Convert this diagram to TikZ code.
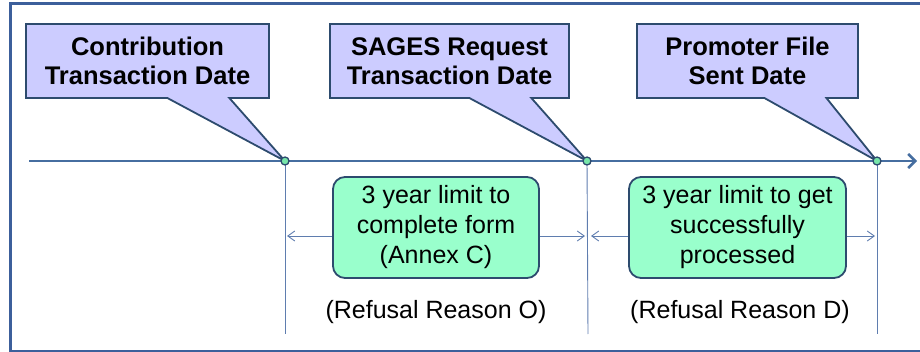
\documentclass[tikz,border=0pt]{standalone}
\usepackage{fontspec}
\setmainfont{Liberation Sans}
\usetikzlibrary{shapes,arrows.meta}

\definecolor{frameblue}{RGB}{60,95,155}
\definecolor{axisblue}{RGB}{70,110,160}
\definecolor{edgeblue}{RGB}{45,75,110}
\definecolor{guideblue}{RGB}{95,125,175}
\definecolor{lavender}{RGB}{204,204,255}
\definecolor{mint}{RGB}{153,255,204}
\definecolor{dotgreen}{RGB}{120,230,170}

\begin{document}
\begin{tikzpicture}[x=1pt,y=-1pt,
datebox/.style = {rectangle callout, draw=edgeblue, line width=1.8pt, fill=lavender,
                  align=center, inner sep=0pt, minimum height=74pt,
                  callout pointer width=62pt,
                  font=\fontsize{25.5}{29}\selectfont\bfseries},
limitbox/.style = {rectangle, rounded corners=12pt, draw=edgeblue, line width=1.8pt,
                   fill=mint, align=center, inner sep=0pt, minimum height=101pt,
                   font=\fontsize{25}{30}\selectfont},
reason/.style = {font=\fontsize{25}{30}\selectfont},
dot/.style = {circle, draw=edgeblue, line width=1.3pt, fill=dotgreen,
              minimum size=8pt, inner sep=0pt},
axis/.style = {draw=axisblue, line width=2.5pt, -{Straight Barb[length=7pt,width=14pt]}},
guide/.style = {draw=guideblue, line width=0.9pt},
dim/.style = {draw=guideblue, line width=0.9pt, -{Straight Barb[length=7pt,width=10pt]}}]

\useasboundingbox (0,0) rectangle (920,352);
\draw[frameblue, line width=3pt] (10,4) rectangle (935,351);

% time axis and its three dates
\coordinate (start) at (29,161);
\coordinate (end) at (917,161);
\coordinate (t1) at (285,161);
\coordinate (t2) at (587,161);
\coordinate (t3) at (877,161);
\coordinate (b1) at (285,334);
\coordinate (b2) at (588,334);
\coordinate (b3) at (877,334);

\path[guide] (t1) -- (b1);
\path[guide] (t2) -- (b2);
\path[guide] (t3) -- (b3);
\path[axis] (start) -- (end);

% callouts
\node[datebox, minimum width=243pt, callout absolute pointer=(t1)] (contrib) at (147.5,61)
  {Contribution\\Transaction Date};
\node[datebox, minimum width=239pt, callout absolute pointer=(t2)] (request) at (449.5,61)
  {SAGES Request\\Transaction Date};
\node[datebox, minimum width=221pt, callout absolute pointer=(t3)] (sent) at (747.5,61)
  {Promoter File\\Sent Date};

\node[dot] (d1) at (t1) {};
\node[dot] (d2) at (t2) {};
\node[dot] (d3) at (t3) {};

% limits
\node[limitbox, minimum width=206pt] (form) at (436,227.5)
  {3 year limit to\\complete form\\(Annex C)};
\node[limitbox, minimum width=217pt] (process) at (737.5,227.5)
  {3 year limit to get\\successfully\\processed};

\coordinate (a1) at (287,236);
\coordinate (a2) at (585,236);
\coordinate (a3) at (591,236);
\coordinate (a4) at (875,236);

\path[dim] (form.west |- a1) -- (a1);
\path[dim] (form.east |- a2) -- (a2);
\path[dim] (process.west |- a3) -- (a3);
\path[dim] (process.east |- a4) -- (a4);

\node[reason] (reasonO) at (436,312) {(Refusal Reason O)};
\node[reason] (reasonD) at (740,312) {(Refusal Reason D)};
\end{tikzpicture}
\end{document}
